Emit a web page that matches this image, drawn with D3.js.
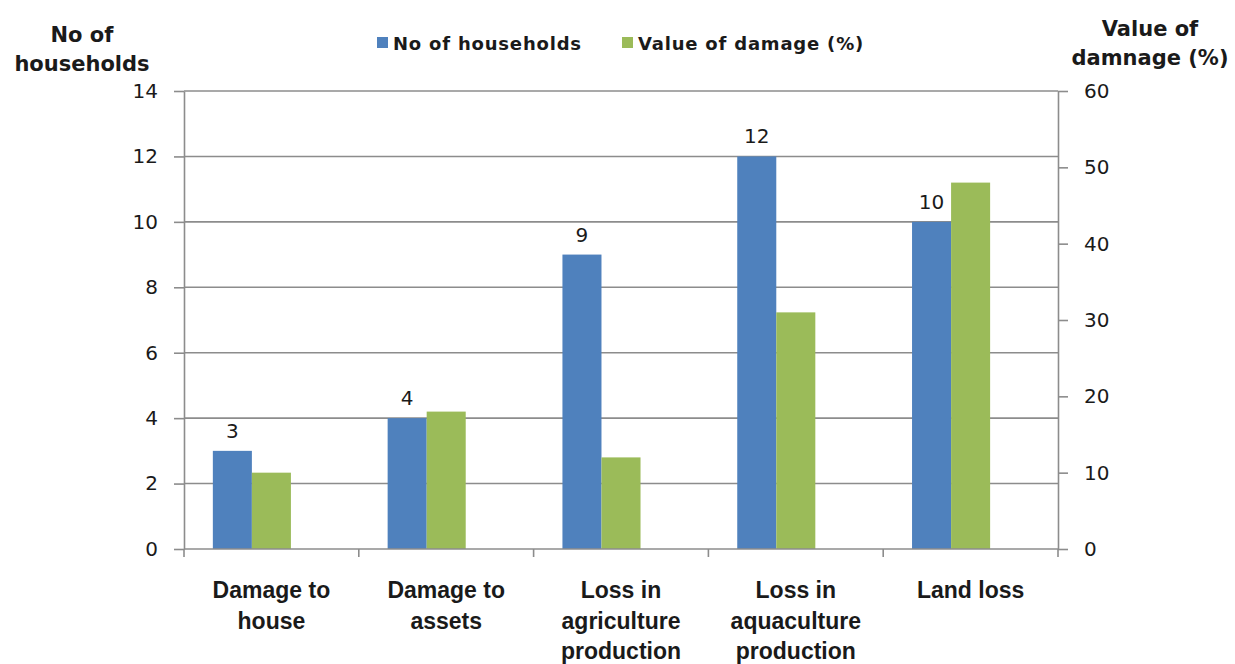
<!DOCTYPE html>
<html>
<head>
<meta charset="utf-8">
<script src="https://cdn.jsdelivr.net/npm/d3@7"></script>
<style>
  body { margin: 0; background: #fff; }
  svg { display: block; }
</style>
</head>
<body>
<svg id="chart" width="1235" height="664"></svg>
<script>
// Chart data
const categories = ["Damage to house", "Damage to assets", "Loss in agriculture production", "Loss in aquaculture production", "Land loss"];
const categoryLines = [["Damage to", "house"], ["Damage to", "assets"], ["Loss in", "agriculture", "production"], ["Loss in", "aquaculture", "production"], ["Land loss"]];
const households = [3, 4, 9, 12, 10];
const damagePct = [10, 18, 12, 31, 48];
const seriesNames = ["No of households", "Value of damage (%)"];
const leftTicks = [0, 2, 4, 6, 8, 10, 12, 14];
const rightTicks = [0, 10, 20, 30, 40, 50, 60];

const colors = { households: "#4F81BD", damage: "#9BBB59" };
const gridColor = "#8c8c8c";
const textColor = "#1a1a1a";

const svg = d3.select("#chart");
const plot = { left: 184, right: 1058, top: 91, bottom: 549 };

const x = d3.scaleBand()
  .domain(categories)
  .range([plot.left, plot.right])
  .paddingInner(0.33)
  .paddingOuter(0.165);

// three slots per group; the last one stays empty
const sub = d3.scaleBand()
  .domain(["households", "damage", "spare"])
  .range([0, x.bandwidth()]);

const yL = d3.scaleLinear().domain([0, 14]).range([plot.bottom, plot.top]);
const yR = d3.scaleLinear().domain([0, 60]).range([plot.bottom, plot.top]);

const numFont = "DejaVu Sans, Verdana, sans-serif";
const titleFont = "DejaVu Sans, Verdana, sans-serif";

// horizontal gridlines
svg.append("g")
  .selectAll("line")
  .data(leftTicks.filter(d => d > 0))
  .join("line")
  .attr("x1", plot.left).attr("x2", plot.right)
  .attr("y1", d => yL(d)).attr("y2", d => yL(d))
  .attr("stroke", gridColor).attr("stroke-width", 1.6);

// bars
const groups = svg.append("g")
  .selectAll("g")
  .data(categories)
  .join("g")
  .attr("transform", d => `translate(${x(d)},0)`);

groups.append("rect")
  .attr("x", sub("households"))
  .attr("width", sub.bandwidth())
  .attr("y", (d, i) => yL(households[i]))
  .attr("height", (d, i) => yL(0) - yL(households[i]))
  .attr("fill", colors.households);

groups.append("rect")
  .attr("x", sub("damage"))
  .attr("width", sub.bandwidth())
  .attr("y", (d, i) => yR(damagePct[i]))
  .attr("height", (d, i) => yR(0) - yR(damagePct[i]))
  .attr("fill", colors.damage);

// value labels on the household bars
groups.append("text")
  .attr("x", sub("households") + sub.bandwidth() / 2)
  .attr("y", (d, i) => yL(households[i]) - 13)
  .attr("text-anchor", "middle")
  .attr("font-family", numFont)
  .attr("font-size", 20)
  .attr("fill", textColor)
  .text((d, i) => households[i]);

// axes
function styleAxis(g) {
  g.selectAll("path, line").attr("stroke", gridColor).attr("stroke-width", 1.6);
  g.selectAll("text")
    .attr("font-family", numFont)
    .attr("font-size", 20)
    .attr("fill", textColor);
}

svg.append("g")
  .attr("transform", `translate(${plot.left},0)`)
  .call(d3.axisLeft(yL).tickValues(leftTicks).tickSize(10).tickSizeOuter(0).tickPadding(16))
  .call(styleAxis);

svg.append("g")
  .attr("transform", `translate(${plot.right},0)`)
  .call(d3.axisRight(yR).tickValues(rightTicks).tickSize(10).tickSizeOuter(0).tickPadding(16))
  .call(styleAxis);

// category axis: ticks at the band boundaries
const boundaries = categories.map(c => x(c) - x.step() * x.paddingInner() / 2).concat([plot.right]);
const xAxis = svg.append("g");
xAxis.append("line")
  .attr("x1", plot.left).attr("x2", plot.right)
  .attr("y1", plot.bottom).attr("y2", plot.bottom)
  .attr("stroke", gridColor).attr("stroke-width", 1.6);
xAxis.selectAll("line.tick")
  .data(boundaries)
  .join("line")
  .attr("class", "tick")
  .attr("x1", d => d).attr("x2", d => d)
  .attr("y1", plot.bottom).attr("y2", plot.bottom + 8)
  .attr("stroke", gridColor).attr("stroke-width", 1.6);

xAxis.selectAll("text.cat")
  .data(categories)
  .join("text")
  .attr("class", "cat")
  .attr("text-anchor", "middle")
  .attr("font-family", "Liberation Sans Narrow, Arial Narrow, sans-serif")
  .attr("font-weight", "bold")
  .attr("font-size", 23)
  .attr("fill", textColor)
  .each(function (d, i) {
    const t = d3.select(this);
    const cx = boundaries[i] + x.step() / 2;
    categoryLines[i].forEach((line, j) => {
      t.append("tspan").attr("x", cx).attr("y", 598 + j * 30.5).text(line);
    });
  });

// axis titles
const leftTitle = svg.append("text")
  .attr("text-anchor", "middle")
  .attr("font-family", titleFont).attr("font-weight", "bold")
  .attr("font-size", 21).attr("fill", textColor);
leftTitle.append("tspan").attr("x", 82).attr("y", 42).text("No of");
leftTitle.append("tspan").attr("x", 82).attr("y", 71).text("households");

const rightTitle = svg.append("text")
  .attr("text-anchor", "middle")
  .attr("font-family", titleFont).attr("font-weight", "bold")
  .attr("font-size", 21).attr("fill", textColor);
rightTitle.append("tspan").attr("x", 1150).attr("y", 36).text("Value of");
rightTitle.append("tspan").attr("x", 1150).attr("y", 65).text("damnage (%)");

// legend
const legendItems = [
  { name: seriesNames[0], color: colors.households, x: 377 },
  { name: seriesNames[1], color: colors.damage, x: 622 }
];
const legend = svg.append("g");
legend.selectAll("rect")
  .data(legendItems)
  .join("rect")
  .attr("x", d => d.x).attr("y", 37)
  .attr("width", 11).attr("height", 11)
  .attr("fill", d => d.color);
legend.selectAll("text")
  .data(legendItems)
  .join("text")
  .attr("x", d => d.x + 16).attr("y", 50)
  .attr("font-family", titleFont).attr("font-weight", "bold")
  .attr("font-size", 18).attr("letter-spacing", 0.8).attr("fill", textColor)
  .text(d => d.name);
</script>
</body>
</html>
